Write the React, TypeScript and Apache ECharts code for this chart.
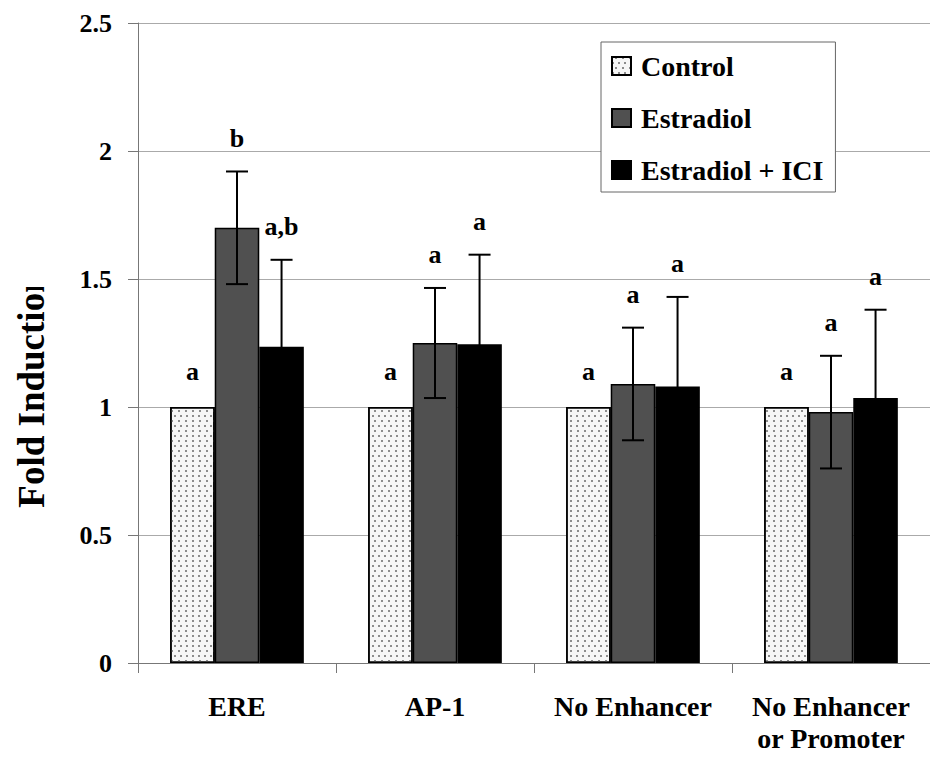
import React, { useEffect, useRef } from "react";
import * as echarts from "echarts";

const categories = ["ERE", "AP-1", "No Enhancer", "No Enhancer\nor Promoter"];
const seriesNames = ["Control", "Estradiol", "Estradiol + ICI"];
const controlValues = [1, 1, 1, 1];
const estradiolValues = [1.7, 1.25, 1.09, 0.98];
const estradiolErrors = [0.22, 0.215, 0.22, 0.22];
const iciValues = [1.235, 1.245, 1.08, 1.035];
const iciErrors = [0.34, 0.35, 0.35, 0.345];
const controlLetters = ["a", "a", "a", "a"];
const estradiolLetters = ["b", "a", "a", "a"];
const iciLetters = ["a,b", "a", "a", "a"];
const yTicks = [0, 0.5, 1, 1.5, 2, 2.5];

const FONT = "'Liberation Serif', 'Times New Roman', serif";

function makeAnnotationSeries(
  name: string,
  values: number[],
  errors: (number | null)[],
  letters: string[],
  slot: number
) {
  return {
    type: "custom",
    name,
    z: 5,
    silent: true,
    data: values.map((v, i) => [i, v, errors[i] == null ? 0 : errors[i]]),
    encode: { x: 0, y: 1 },
    renderItem: (params: any, api: any) => {
      const i = api.value(0);
      const mean = api.value(1);
      const err = api.value(2);
      const cw = api.size([1, 0])[0];
      const bw = cw * 0.225;
      const base = api.coord([i, mean]);
      const x = base[0] + slot * bw;
      const children: any[] = [];
      let topY = base[1];
      const cap = 11;
      if (err > 0) {
        topY = api.coord([i, mean + err])[1];
        const botY = api.coord([i, mean - err])[1];
        const ls = { stroke: "#000", lineWidth: 2 };
        children.push({ type: "line", shape: { x1: x, y1: topY, x2: x, y2: botY }, style: ls });
        children.push({ type: "line", shape: { x1: x - cap, y1: topY, x2: x + cap, y2: topY }, style: ls });
        children.push({ type: "line", shape: { x1: x - cap, y1: botY, x2: x + cap, y2: botY }, style: ls });
      }
      const offset = err > 0 ? 33 : 36;
      children.push({
        type: "text",
        x,
        y: topY - offset,
        style: {
          text: letters[params.dataIndex],
          fontFamily: FONT,
          fontWeight: "bold",
          fontSize: 26,
          fill: "#000",
          align: "center",
          verticalAlign: "middle",
        },
      });
      return { type: "group", children };
    },
  };
}

export default function App() {
  const ref = useRef<HTMLDivElement>(null);
  useEffect(() => {
    if (!ref.current) return;
    const chart = echarts.init(ref.current, undefined, { renderer: "svg" });
    const barBase = { type: "bar", barGap: "0%", barCategoryGap: "32.5%" };
    const option: any = {
      animation: false,
      backgroundColor: "#fff",
      grid: { left: 138, top: 23, width: 806, height: 640, containLabel: false },
      legend: {
        data: seriesNames,
        orient: "vertical",
        left: 601,
        top: 42,
        backgroundColor: "#fff",
        borderColor: "#666",
        borderWidth: 1,
        padding: [10, 12, 8, 10],
        itemGap: 24,
        itemWidth: 19,
        itemHeight: 18,
        icon: "rect",
        z: 10,
        textStyle: {
          fontFamily: FONT,
          fontSize: 28,
          fontWeight: "bold",
          color: "#000",
          padding: [0, 0, 0, 5],
        },
      },
      xAxis: {
        type: "category",
        data: categories,
        axisLine: { lineStyle: { color: "#777", width: 1 } },
        axisTick: { show: true, length: 10, lineStyle: { color: "#777" } },
        axisLabel: {
          interval: 0,
          margin: 27,
          fontFamily: FONT,
          fontSize: 28,
          fontWeight: "bold",
          color: "#000",
          lineHeight: 32,
        },
      },
      yAxis: {
        type: "value",
        min: yTicks[0],
        max: yTicks[yTicks.length - 1],
        interval: 0.5,
        axisLine: { show: true, lineStyle: { color: "#777", width: 1 } },
        axisTick: { show: true, length: 10, lineStyle: { color: "#777" } },
        splitLine: { show: true, lineStyle: { color: "#aaa", width: 1 } },
        axisLabel: {
          margin: 26,
          fontFamily: FONT,
          fontSize: 26,
          fontWeight: "bold",
          color: "#000",
        },
      },
      graphic: [
        {
          type: "text",
          x: 31,
          y: 390,
          rotation: Math.PI / 2,
          z: 10,
          style: {
            text: "Fold Induction",
            fontFamily: FONT,
            fontSize: 37,
            fontWeight: "bold",
            fill: "#000",
            align: "center",
            verticalAlign: "middle",
          },
        },
        {
          type: "rect",
          z: 11,
          shape: { x: 0, y: 250, width: 70, height: 37 },
          style: { fill: "#fff" },
        },
      ],
      series: [
        {
          ...barBase,
          name: seriesNames[0],
          data: controlValues,
          itemStyle: {
            color: "#f6f6f6",
            borderColor: "#000",
            borderWidth: 1.5,
            decal: {
              symbol: "rect",
              symbolSize: 1,
              color: "#8c8c8c",
              dashArrayX: [
                [1.4, 3.6],
                [0, 2.5, 1.4, 1.1],
              ],
              dashArrayY: [1.4, 2.6],
              rotation: 0,
            },
          },
        },
        {
          ...barBase,
          name: seriesNames[1],
          data: estradiolValues,
          itemStyle: { color: "#505050", borderColor: "#000", borderWidth: 1.5 },
        },
        {
          ...barBase,
          name: seriesNames[2],
          data: iciValues,
          itemStyle: { color: "#000000", borderColor: "#000", borderWidth: 1.5 },
        },
        makeAnnotationSeries("ctl-ann", controlValues, controlValues.map(() => null), controlLetters, -1),
        makeAnnotationSeries("e2-ann", estradiolValues, estradiolErrors, estradiolLetters, 0),
        makeAnnotationSeries("ici-ann", iciValues, iciErrors, iciLetters, 1),
      ],
    };
    chart.setOption(option);
    return () => chart.dispose();
  }, []);
  return (
    <div
      ref={ref}
      style={{ position: "fixed", left: 0, top: 0, width: 930, height: 759, background: "#fff" }}
    />
  );
}
